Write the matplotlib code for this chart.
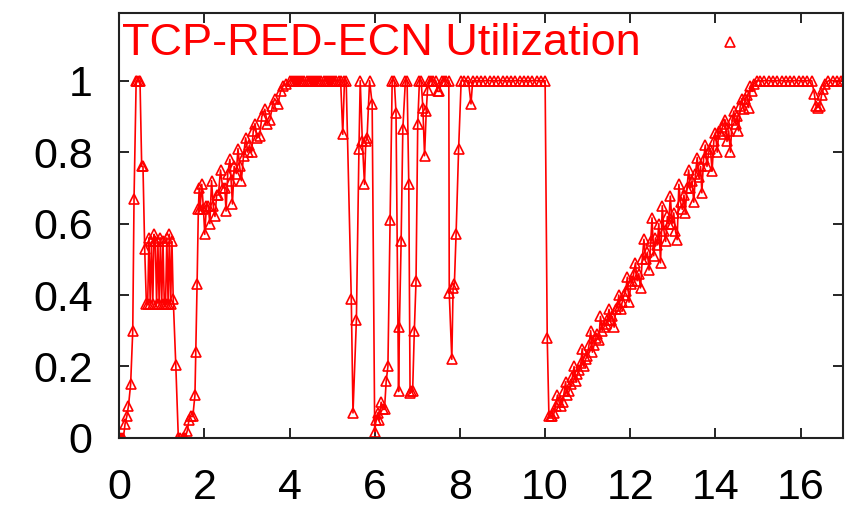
import matplotlib
matplotlib.use('Agg')
import matplotlib.pyplot as plt

# time (s) and link utilization
t_start = [0.0, 0.05, 0.1, 0.14, 0.18, 0.22, 0.27, 0.32, 0.35, 0.40, 0.43, 0.46, 0.49,
           0.53, 0.56, 0.60, 0.64, 0.67, 0.70, 0.73, 0.76, 0.79, 0.82, 0.85, 0.88, 0.91,
           0.94, 0.97, 1.00, 1.03, 1.06, 1.09, 1.12, 1.15, 1.18, 1.21, 1.24, 1.27, 1.33,
           1.39, 1.44, 1.49, 1.55, 1.60, 1.64, 1.68, 1.73, 1.78, 1.80, 1.83, 1.86, 1.88]
u_start = [0.0, 0.0, 0.0, 0.04, 0.06, 0.09, 0.15, 0.30, 0.67, 1.0, 1.0, 1.0, 1.0,
           0.76, 0.76, 0.53, 0.375, 0.375, 0.56, 0.375, 0.55, 0.375, 0.57, 0.55, 0.375, 0.55,
           0.375, 0.56, 0.375, 0.55, 0.375, 0.375, 0.56, 0.375, 0.57, 0.375, 0.55, 0.39, 0.205,
           0.0, 0.0, 0.0, 0.0, 0.02, 0.05, 0.06, 0.06, 0.12, 0.24, 0.43, 0.64, 0.70]

t_ramp1 = [1.90, 1.94, 1.98, 2.01, 2.05, 2.09, 2.13, 2.17, 2.21, 2.25, 2.29, 2.33, 2.38,
           2.43, 2.48, 2.51, 2.55, 2.60, 2.63, 2.66, 2.70, 2.75, 2.79, 2.83, 2.87, 2.92,
           2.97, 3.02, 3.06, 3.11, 3.15, 3.19, 3.24, 3.30, 3.35, 3.42, 3.48, 3.54, 3.60,
           3.65, 3.73, 3.79, 3.85, 3.92, 4.00]
u_ramp1 = [0.64, 0.71, 0.64, 0.57, 0.65, 0.65, 0.60, 0.72, 0.65, 0.62, 0.68, 0.68, 0.75,
           0.70, 0.70, 0.635, 0.74, 0.78, 0.72, 0.655, 0.76, 0.74, 0.81, 0.76, 0.72, 0.79,
           0.84, 0.80, 0.82, 0.80, 0.86, 0.88, 0.84, 0.845, 0.90, 0.92, 0.88, 0.89, 0.93,
           0.95, 0.935, 0.97, 0.985, 0.99, 1.0]

t_flat1 = [4.05, 4.1, 4.15, 4.2, 4.25, 4.3, 4.35, 4.4, 4.45, 4.5, 4.55, 4.6, 4.65, 4.7,
           4.75, 4.8, 4.85, 4.9, 4.95, 5.0, 5.05, 5.1, 5.15, 5.2]
u_flat1 = [1.0] * len(t_flat1)

t_drops = [5.25, 5.29, 5.33, 5.45, 5.49, 5.57, 5.63, 5.66, 5.71, 5.76, 5.79, 5.82, 5.88,
           5.94, 6.00, 6.03, 6.07, 6.11, 6.15, 6.19, 6.23, 6.27, 6.31, 6.36, 6.41, 6.46,
           6.50, 6.56, 6.58, 6.62, 6.66, 6.72, 6.76, 6.80, 6.83, 6.86, 6.89, 6.93, 6.97,
           7.01, 7.05, 7.09, 7.13, 7.17, 7.21, 7.24, 7.28, 7.33, 7.38, 7.43, 7.48, 7.52,
           7.57, 7.63, 7.68, 7.74, 7.75, 7.81, 7.84, 7.87, 7.91, 7.97, 8.03]
u_drops = [0.85, 1.0, 1.0, 0.39, 0.07, 0.33, 0.81, 1.0, 0.83, 0.71, 0.83, 0.84, 1.0,
           0.935, 0.017, 0.05, 0.07, 0.05, 0.10, 0.08, 0.08, 0.16, 0.20, 0.61, 1.0, 1.0,
           0.91, 0.13, 0.31, 0.55, 0.865, 1.0, 1.0, 0.71, 0.125, 0.13, 0.13, 0.30, 0.44,
           0.88, 1.0, 1.0, 0.925, 0.79, 0.915, 0.975, 1.0, 1.0, 1.0, 1.0, 0.97, 0.97,
           1.0, 1.0, 1.0, 1.0, 0.405, 0.22, 0.42, 0.43, 0.57, 0.81, 1.0]

t_flat2 = [8.1, 8.2, 8.26, 8.3, 8.4, 8.5, 8.6, 8.7, 8.8, 8.9, 9.0, 9.1, 9.2, 9.3, 9.4,
           9.5, 9.6, 9.7, 9.8, 9.9, 10.0, 10.05, 10.09, 10.13, 10.17, 10.21]
u_flat2 = [1.0, 1.0, 0.935, 1.0, 1.0, 1.0, 1.0, 1.0, 1.0, 1.0, 1.0, 1.0, 1.0, 1.0, 1.0,
           1.0, 1.0, 1.0, 1.0, 1.0, 1.0, 0.28, 0.06, 0.06, 0.06, 0.07]

t_ramp2 = [10.25, 10.29, 10.33, 10.37, 10.41, 10.45, 10.48, 10.52, 10.56, 10.60, 10.64,
           10.68, 10.72, 10.76, 10.80, 10.84, 10.87, 10.91, 10.95, 10.99, 11.03, 11.07,
           11.11, 11.15, 11.19, 11.22, 11.26, 11.30, 11.34, 11.38, 11.42, 11.46, 11.50,
           11.54, 11.58, 11.62, 11.66, 11.70, 11.73, 11.77, 11.81, 11.85, 11.89, 11.93,
           11.97, 12.01, 12.05, 12.08, 12.12, 12.16, 12.20, 12.24, 12.28, 12.32, 12.36,
           12.40, 12.44, 12.48, 12.51, 12.55, 12.59, 12.63, 12.67, 12.71, 12.75, 12.79,
           12.83, 12.87, 12.90, 12.94, 12.98, 13.02, 13.06, 13.10, 13.14, 13.18, 13.22,
           13.26, 13.29, 13.33, 13.37, 13.41, 13.45, 13.49, 13.53, 13.57, 13.61, 13.65,
           13.68, 13.72, 13.76, 13.80, 13.84, 13.88, 13.92, 13.96, 14.00, 14.04, 14.08,
           14.12, 14.16, 14.20, 14.23, 14.27, 14.31, 14.35, 14.39, 14.43, 14.47, 14.51,
           14.54, 14.58, 14.62, 14.66, 14.70, 14.74, 14.78, 14.82, 14.86, 14.90, 14.97]
u_ramp2 = [0.09, 0.12, 0.10, 0.09, 0.10, 0.13, 0.157, 0.12, 0.13, 0.15, 0.17,
           0.20, 0.16, 0.18, 0.19, 0.21, 0.25, 0.20, 0.22, 0.23, 0.26, 0.30,
           0.24, 0.26, 0.28, 0.29, 0.275, 0.34, 0.30, 0.31, 0.32, 0.33, 0.36,
           0.33, 0.34, 0.31, 0.36, 0.37, 0.40, 0.36, 0.38, 0.40, 0.41, 0.45,
           0.38, 0.43, 0.44, 0.46, 0.49, 0.44, 0.46, 0.42, 0.50, 0.556, 0.50,
           0.52, 0.47, 0.55, 0.616, 0.51, 0.56, 0.54, 0.60, 0.49, 0.65, 0.58,
           0.55, 0.62, 0.60, 0.677, 0.60, 0.63, 0.58, 0.555, 0.71, 0.66, 0.64,
           0.68, 0.63, 0.70, 0.75, 0.70, 0.72, 0.66, 0.74, 0.785, 0.73, 0.76,
           0.686, 0.78, 0.82, 0.76, 0.80, 0.81, 0.747, 0.83, 0.855, 0.80, 0.86,
           0.85, 0.87, 0.88, 0.89, 0.83, 0.86, 0.80, 0.89, 0.915, 0.88, 0.90,
           0.86, 0.93, 0.95, 0.92, 0.95, 0.96, 0.925, 0.985, 0.97, 0.99, 1.0]

t_end = [15.05, 15.15, 15.25, 15.35, 15.45, 15.55, 15.65, 15.75, 15.85, 15.95, 16.05,
         16.15, 16.26, 16.32, 16.36, 16.40, 16.45, 16.49, 16.53, 16.58, 16.65, 16.75,
         16.85, 16.95, 17.0]
u_end = [1.0, 1.0, 1.0, 1.0, 1.0, 1.0, 1.0, 1.0, 1.0, 1.0, 1.0,
         1.0, 1.0, 0.963, 0.93, 0.925, 0.93, 0.96, 0.976, 0.99, 1.0, 1.0,
         1.0, 1.0, 1.0]

t = t_start + t_ramp1 + t_flat1 + t_drops + t_flat2 + t_ramp2 + t_end
util = u_start + u_ramp1 + u_flat1 + u_drops + u_flat2 + u_ramp2 + u_end

plt.rcParams['font.family'] = ['Liberation Sans', 'DejaVu Sans']

fig = plt.figure(figsize=(8.57, 5.14), dpi=100)
ax = fig.add_axes([0.139, 0.148, 0.845, 0.827])

ax.plot(t, util, color='red', lw=1.2, marker='^', markersize=7,
        markerfacecolor='none', markeredgewidth=1.2)

ax.set_xlim(0, 17)
ax.set_ylim(0, 1.19)
ax.set_xticks(range(0, 17, 2))
ax.set_yticks([0, 0.2, 0.4, 0.6, 0.8, 1])
ax.set_yticklabels(['0', '0.2', '0.4', '0.6', '0.8', '1'])
ax.tick_params(direction='in', length=7, width=1.2, labelsize=31,
               top=True, right=True)
ax.tick_params(axis='x', pad=22)
ax.tick_params(axis='y', pad=19)
for s in ax.spines.values():
    s.set_linewidth(1.5)
    s.set_color('#222222')

# gnuplot style key
ax.text(0.004, 0.929, 'TCP-RED-ECN Utilization', transform=ax.transAxes,
        color='red', fontsize=32.5, ha='left', va='center')
ax.plot([14.35], [1.107], color='red', marker='^', markersize=7,
        markerfacecolor='none', markeredgewidth=1.2, linestyle='none')

fig.savefig('out.png', dpi=100)
